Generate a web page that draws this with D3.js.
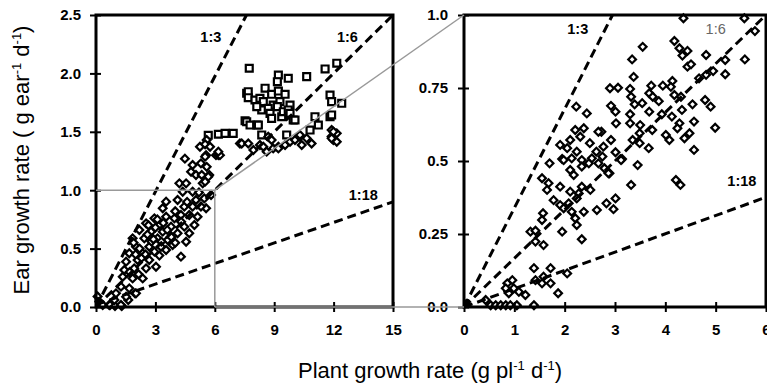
<!DOCTYPE html>
<html>
<head>
<meta charset="utf-8">
<script src="https://cdn.jsdelivr.net/npm/d3@7"></script>
<style>
  body { margin: 0; background: #fff; }
  svg { font-family: 'Liberation Sans', Arial, sans-serif; }
</style>
</head>
<body>
<div id="chart"></div>
<script>
// tick labels
var leftXTicks = [0, 3, 6, 9, 12, 15];
var leftYTicks = [0, 0.5, 1.0, 1.5, 2.0, 2.5];
var leftYLabels = ['0.0', '0.5', '1.0', '1.5', '2.0', '2.5'];
var rightXTicks = [0, 1, 2, 3, 4, 5, 6];
var rightYTicks = [0, 0.25, 0.5, 0.75, 1.0];
var rightYLabels = ['0.0', '0.25', '0.5', '0.75', '1.0'];

// left panel, diamonds (plant growth, ear growth)
var leftDiamonds = [
  [0.08,0.09],[0.17,0.045],[0.34,0.017],[0.67,0.017],[0.71,0.017],[0.96,0.009],[1.30,0.009],[1.26,0.017],
  [0.93,0.06],[1.63,0.06],[1.01,0.117],[1.52,0.088],[1.97,0.117],[2.02,0.117],[1.26,0.174],[1.68,0.16],
  [1.35,0.259],[1.85,0.245],[2.36,0.245],[1.43,0.317],[1.93,0.331],[2.53,0.331],[1.52,0.388],[2.10,0.402],
  [2.69,0.402],[3.03,0.345],[1.68,0.46],[2.36,0.46],[2.95,0.474],[3.54,0.488],[4.29,0.431],[2.02,0.516],
  [2.69,0.516],[3.28,0.516],[3.87,0.531],[1.85,0.588],[2.44,0.588],[3.11,0.588],[3.62,0.574],[4.55,0.559],
  [2.19,0.659],[2.78,0.645],[3.37,0.645],[4.12,0.631],[4.71,0.631],[2.53,0.716],[3.20,0.702],[3.79,0.688],
  [4.46,0.688],[4.97,0.702],[2.95,0.759],[3.54,0.773],[3.96,0.759],[4.29,0.788],[4.71,0.788],[5.13,0.773],
  [3.37,0.845],[4.46,0.859],[4.88,0.859],[5.56,0.845],[3.54,0.902],[4.12,0.916],[5.05,0.916],[5.47,0.93],
  [4.38,0.987],[4.88,0.987],[5.81,0.959],[4.21,1.059],[4.55,1.059],[5.39,1.059],[4.80,1.158],[5.05,1.13],
  [5.72,1.13],[4.88,1.216],[5.30,1.23],[5.56,1.30],[6.06,1.30],[4.49,1.27],[5.25,1.372],[5.59,1.43],
  [6.18,1.30],[5.67,1.116],[2.2,0.5],[2.6,0.62],[3.0,0.68],[3.3,0.56],[3.6,0.66],[2.8,0.56],[2.3,0.42],
  [2.9,0.58],[3.1,0.75],[3.8,0.6],[4.0,0.82],[4.3,0.73],[2.0,0.45],[1.7,0.3],[2.15,0.28],[1.9,0.55],
  [3.4,0.72],[4.0,0.55],[3.2,0.44],[2.5,0.45],[2.65,0.7],[4.6,0.9],[5.2,0.98],[5.3,0.86],
  [5.51,1.393],[5.76,1.372],[5.51,1.287],[5.59,1.20],[5.34,1.13],[5.51,1.073],[6.26,1.30],[6.18,1.33],
  [7.27,1.40],[7.36,1.40],[7.69,1.40],[7.95,1.344],[8.28,1.387],[8.45,1.372],[8.62,1.33],[8.70,1.458],
  [8.87,1.43],[8.95,1.358],[9.21,1.372],[9.21,1.358],[9.55,1.387],[9.80,1.415],[10.05,1.43],[10.30,1.458],
  [10.30,1.473],[10.39,1.387],[10.64,1.444],[10.89,1.40],[11.90,1.515],[12.16,1.487],[11.99,1.43],
  [12.16,1.415],[11.90,1.46],[11.99,1.501],[11.90,1.444]
];

// left panel, squares
var leftSquares = [
  [5.67,1.47],[6.18,1.479],[6.52,1.487],[6.93,1.487],[7.53,1.595],[7.61,1.586],[7.78,1.558],[8.12,1.558],
  [8.20,1.558],[7.61,1.83],[7.69,1.843],[7.69,1.792],[7.74,2.044],[8.03,1.772],[8.28,1.787],[8.54,1.873],
  [8.87,1.821],[9.21,1.849],[9.55,1.821],[8.45,1.758],[8.95,1.729],[9.29,1.758],[9.80,1.729],[8.37,1.687],
  [8.12,1.715],[8.70,1.701],[9.16,1.715],[8.79,1.658],[9.38,1.629],[9.46,1.672],[9.71,1.687],[9.80,1.658],
  [9.96,1.601],[10.05,1.601],[8.87,1.615],[9.21,1.986],[9.16,1.929],[9.71,1.958],[10.64,1.972],
  [11.57,2.038],[12.16,2.087],[11.82,1.815],[11.90,1.758],[12.41,1.744],[11.82,1.629],[11.90,1.644],
  [11.06,1.629],[11.23,1.558],[10.81,1.515],[8.37,1.473],[9.63,1.473]
];

// right panel, diamonds
var rightDiamonds = [
  [4.36,0.989],[5.57,0.989],[5.78,0.945],[3.55,0.891],[4.18,0.911],[4.28,0.886],[4.44,0.877],[4.34,0.861],
  [4.81,0.863],[5.19,0.846],[5.58,0.848],[3.34,0.848],[4.44,0.823],[4.51,0.831],[5.19,0.797],[4.95,0.808],
  [4.81,0.795],[4.67,0.783],[3.37,0.788],[2.90,0.749],[3.06,0.751],[3.30,0.747],[3.72,0.758],[3.95,0.758],
  [4.14,0.774],[4.11,0.754],[3.32,0.720],[3.68,0.732],[3.75,0.720],[3.87,0.705],[4.18,0.726],[4.31,0.720],
  [2.92,0.689],[3.39,0.694],[3.54,0.698],[4.54,0.694],[4.79,0.709],[4.90,0.686],[3.01,0.669],[3.30,0.660],
  [3.68,0.669],[3.93,0.660],[4.13,0.652],[4.33,0.675],[3.02,0.629],[3.30,0.629],[3.50,0.623],[4.28,0.629],
  [4.57,0.635],[4.99,0.614],[2.73,0.600],[3.74,0.606],[3.49,0.595],[4.24,0.612],[4.01,0.589],[4.08,0.572],
  [4.48,0.595],[4.38,0.578],[2.92,0.572],[2.77,0.549],[3.35,0.572],[3.49,0.561],[3.67,0.544],[4.57,0.538],
  [3.01,0.530],[3.14,0.507],[2.75,0.515],[3.12,0.503],[3.45,0.486],[2.79,0.475],[2.89,0.458],[3.32,0.418],
  [4.21,0.435],[4.30,0.418],[2.83,0.355],[3.01,0.372],[2.97,0.335],
  [2.23,0.686],[2.44,0.663],[2.21,0.606],[2.38,0.612],[2.67,0.600],[2.11,0.572],[2.31,0.583],[1.91,0.555],
  [2.50,0.561],[2.05,0.544],[2.24,0.532],[2.63,0.532],[1.95,0.507],[2.14,0.509],[2.34,0.503],[2.54,0.509],
  [1.70,0.492],[1.98,0.503],[2.11,0.469],[2.18,0.452],[2.34,0.481],[2.48,0.492],[2.67,0.492],[2.87,0.458],
  [1.55,0.441],[1.68,0.424],[1.65,0.401],[1.91,0.412],[2.11,0.395],[2.34,0.412],[2.51,0.401],[2.28,0.389],
  [1.78,0.366],[1.91,0.349],[2.08,0.355],[2.24,0.372],[1.98,0.338],[2.14,0.326],[2.38,0.326],[2.64,0.332],
  [2.21,0.304],[2.24,0.281],[1.57,0.321],[1.55,0.298],[1.32,0.258],[1.42,0.261],[1.42,0.224],[1.58,0.212],
  [1.95,0.258],[2.34,0.232],[1.39,0.133],[1.72,0.133],[1.58,0.104],[1.42,0.092],[1.55,0.081],[1.72,0.081],
  [2.05,0.115],[1.87,0.047],[0.86,0.081],[0.96,0.092],[0.83,0.064],[0.99,0.064],[0.89,0.047],[1.09,0.052],
  [1.22,0.041],[0.43,0.024],[0.53,0.006],[0.63,0.006],[0.73,0.006],[0.83,0.006],[0.92,0.006],[1.05,0.006],
  [1.39,0.006]
];

// ratio guide lines [label, x0, y0, x1, y1]
var leftRatios = [['1:3', 0, 0, 7.6, 2.5], ['1:6', 0, 0, 15, 2.5], ['1:18', 0, 0.02, 15, 0.9]];
var rightRatios = [['1:3', 0, 0, 2.95, 1.0], ['1:6', 0, 0, 6, 1.0], ['1:18', 0, 0, 6, 0.376]];
var leftRatioLabels = [['1:3', 5.8, 2.27], ['1:6', 12.7, 2.27], ['1:18', 13.5, 0.92]];
var rightRatioLabels = [['1:3', 2.26, 0.935], ['1:6', 5.0, 0.935], ['1:18', 5.52, 0.415]];

var width = 767;
var height = 387;
var font = "'Liberation Sans', Arial, sans-serif";

var svg = d3.select('#chart').append('svg')
  .attr('width', width)
  .attr('height', height);

var xL = d3.scaleLinear().domain([0, 15]).range([96, 393]);
var yL = d3.scaleLinear().domain([0, 2.5]).range([307, 15]);
var xR = d3.scaleLinear().domain([0, 6]).range([464, 766]);
var yR = d3.scaleLinear().domain([0, 1]).range([307, 15]);

var diamond = d3.symbol().type(d3.symbolSquare).size(30);
var square = d3.symbol().type(d3.symbolSquare).size(48);

function drawPoints(data, x, y, sym, rot, cls) {
  svg.append('g').selectAll('path.' + cls)
    .data(data)
    .enter().append('path')
    .attr('class', cls)
    .attr('d', sym)
    .attr('transform', function(d) { return 'translate(' + x(d[0]) + ',' + y(d[1]) + ') rotate(' + rot + ')'; })
    .attr('fill', '#fff')
    .attr('stroke', '#000')
    .attr('stroke-width', 2.2);
}

function drawRatios(lines, x, y) {
  svg.append('g').selectAll('line')
    .data(lines)
    .enter().append('line')
    .attr('x1', function(d) { return x(d[1]); })
    .attr('y1', function(d) { return y(d[2]); })
    .attr('x2', function(d) { return x(d[3]); })
    .attr('y2', function(d) { return y(d[4]); })
    .attr('stroke', '#000')
    .attr('stroke-width', 3)
    .attr('stroke-dasharray', '9,5');
}

function drawAxes(x, y, xticks, yticks, ylabels, labelGap) {
  var xa = svg.append('g')
    .attr('transform', 'translate(0,' + y.range()[0] + ')')
    .call(d3.axisBottom(x).tickValues(xticks).tickSize(5).tickSizeOuter(0).tickFormat(d3.format('d')));
  xa.selectAll('.tick line').attr('y1', -5).attr('y2', 5).attr('stroke-width', 2);
  xa.selectAll('.tick text').attr('y', 17).attr('dy', '0.71em');

  var ya = svg.append('g')
    .attr('transform', 'translate(' + x.range()[0] + ',0)')
    .call(d3.axisLeft(y).tickValues(yticks).tickSize(5).tickSizeOuter(0)
      .tickFormat(function(d, i) { return ylabels[i]; }));
  ya.selectAll('.tick line').attr('x1', -6).attr('x2', 5).attr('stroke-width', 2);
  ya.selectAll('.tick text').attr('x', -labelGap);

  [xa, ya].forEach(function(a) {
    a.select('.domain').remove();
    a.selectAll('text')
      .attr('font-family', font)
      .attr('font-size', 15)
      .attr('font-weight', 'bold')
      .attr('fill', '#000');
  });

  // frame
  svg.append('rect')
    .attr('x', x.range()[0])
    .attr('y', y.range()[1])
    .attr('width', x.range()[1] - x.range()[0])
    .attr('height', y.range()[0] - y.range()[1])
    .attr('fill', 'none')
    .attr('stroke', '#000')
    .attr('stroke-width', 3);
}

// points first, guide lines on top
drawPoints(leftSquares, xL, yL, square, 0, 'sq');
drawPoints(leftDiamonds, xL, yL, diamond, 45, 'dm');
drawPoints(rightDiamonds, xR, yR, diamond, 45, 'dm');
drawRatios(leftRatios, xL, yL);
drawRatios(rightRatios, xR, yR);

// dots at origin
svg.append('circle').attr('cx', xL(0.08)).attr('cy', yL(0.06)).attr('r', 3).attr('fill', '#000');
svg.append('circle').attr('cx', xR(0.06)).attr('cy', yR(0.015)).attr('r', 3.5).attr('fill', '#000');

drawAxes(xL, yL, leftXTicks, leftYTicks, leftYLabels, 15);
drawAxes(xR, yR, rightXTicks, rightYTicks, rightYLabels, 16);

// grey zoom box and connectors
var grey = svg.append('g').attr('stroke', '#999').attr('stroke-width', 1.5).attr('fill', 'none');
grey.append('polyline')
  .attr('points', [[xL(0), yL(1)], [xL(6), yL(1)], [xL(6), yL(0)]].join(' '));
grey.append('line')
  .attr('x1', xL(6)).attr('y1', yL(1)).attr('x2', xR(0)).attr('y2', yR(1));
grey.append('line')
  .attr('x1', xL(6)).attr('y1', yL(0)).attr('x2', xR(0)).attr('y2', yR(0));

// ratio labels
function drawRatioLabels(labels, x, y, greyIdx) {
  svg.append('g').selectAll('text')
    .data(labels)
    .enter().append('text')
    .attr('x', function(d) { return x(d[1]); })
    .attr('y', function(d) { return y(d[2]); })
    .attr('text-anchor', 'middle')
    .attr('font-size', 14.5)
    .attr('font-weight', function(d, i) { return i === greyIdx ? 'normal' : 'bold'; })
    .attr('fill', function(d, i) { return i === greyIdx ? '#666' : '#000'; })
    .text(function(d) { return d[0]; });
}
drawRatioLabels(leftRatioLabels, xL, yL, -1);
drawRatioLabels(rightRatioLabels, xR, yR, 1);

// axis titles
function title(sel, main, unit) {
  sel.append('tspan').text(main);
  sel.append('tspan').attr('dy', -8).attr('font-size', 13).text('-1');
  sel.append('tspan').attr('dy', 8).text(' d');
  sel.append('tspan').attr('dy', -8).attr('font-size', 13).text('-1');
  sel.append('tspan').attr('dy', 8).text(')');
}

var yt = svg.append('text')
  .attr('transform', 'translate(29,160) rotate(-90)')
  .attr('text-anchor', 'middle')
  .attr('font-size', 22)
  .attr('fill', '#000');
title(yt, 'Ear growth rate ( g ear');

var xt = svg.append('text')
  .attr('x', 430)
  .attr('y', 378)
  .attr('text-anchor', 'middle')
  .attr('font-size', 22)
  .attr('fill', '#000');
title(xt, 'Plant growth rate (g pl');
</script>
</body>
</html>
